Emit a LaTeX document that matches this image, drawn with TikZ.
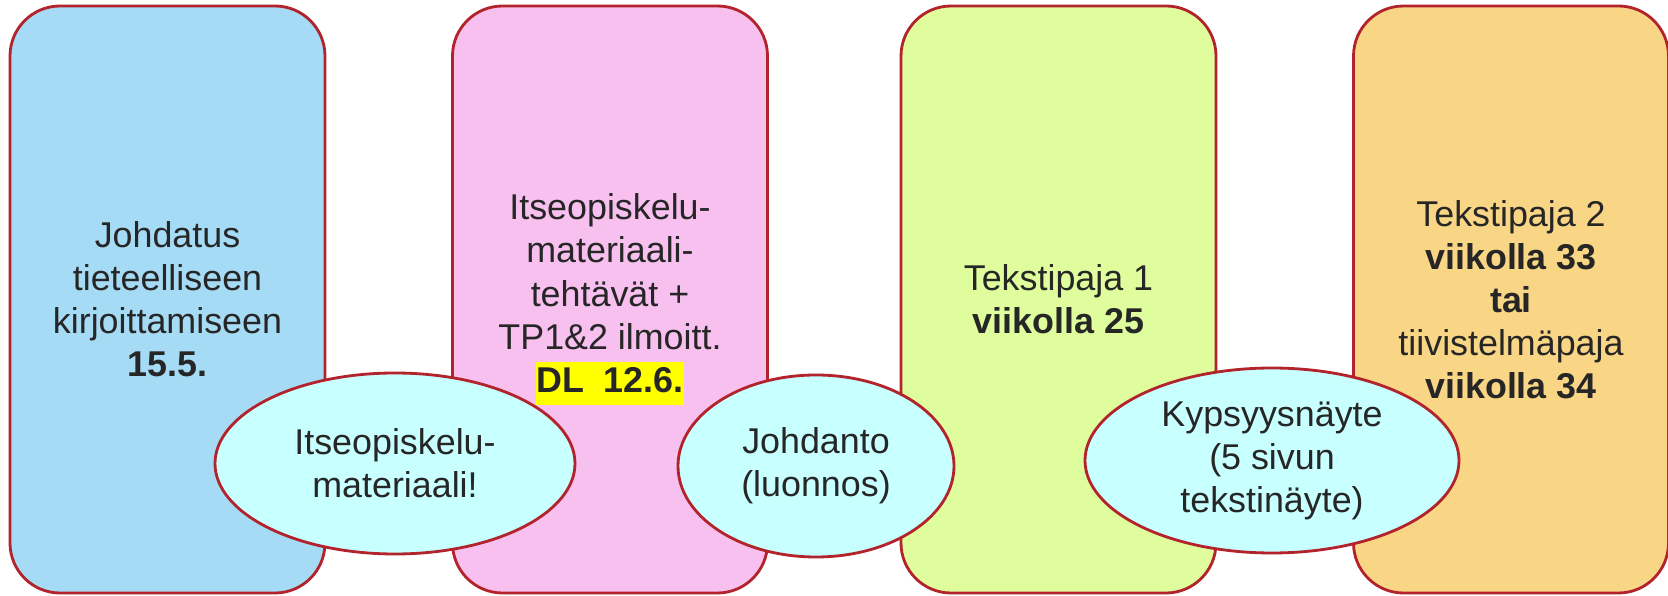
\documentclass[tikz,border=0pt]{standalone}
\usepackage{fontspec}
\setmainfont{Liberation Sans}
\usetikzlibrary{shapes.geometric}

\definecolor{edge}{HTML}{B2232B}
\definecolor{ink}{HTML}{262626}
\definecolor{skyfill}{HTML}{A6DBF5}
\definecolor{pinkfill}{HTML}{F7C0EF}
\definecolor{limefill}{HTML}{DFFD9D}
\definecolor{goldfill}{HTML}{F9D685}
\definecolor{bubblefill}{HTML}{C8FFFF}
\definecolor{marker}{HTML}{FFFF00}

\begin{document}
\begin{tikzpicture}[font=\fontsize{20.4}{24.5}\selectfont, text=ink,
	block/.style = { rectangle, rounded corners=1cm, draw=edge, line width=1.6pt,
	minimum width=6.3cm, minimum height=11.74cm, align=center },
	bubble/.style = { ellipse, draw=edge, line width=1.6pt, fill=bubblefill,
	inner sep=0pt, align=center } ]

  \useasboundingbox (0,0) rectangle (33.36,11.92);

  \node [name=intro, block, fill=skyfill] at (3.35,5.93)
	{ Johdatus\\ tieteelliseen\\ kirjoittamiseen\\ \textbf{15.5.} };
  \node [name=selfstudy, block, fill=pinkfill] at (12.2,5.93)
	{ Itseopiskelu-\\ materiaali-\\ tehtävät +\\ TP1\&2 ilmoitt.\\
	{\setlength{\fboxsep}{0pt}\colorbox{marker}{\strut\textbf{DL\ \ 12.6.}}} };
  \node [name=workshop1, block, fill=limefill] at (21.17,5.93)
	{ Tekstipaja 1\\ \textbf{viikolla 25} };
  \node [name=workshop2, block, fill=goldfill] at (30.22,5.93)
	{ Tekstipaja 2\\ \textbf{viikolla 33}\\ \textbf{tai}\\ tiivistelmäpaja\\
	\textbf{viikolla 34} };

  \node [name=material, bubble, minimum width=7.2cm, minimum height=3.62cm]
	at (7.9,2.65) { Itseopiskelu-\\ materiaali! };
  \node [name=draft, bubble, minimum width=5.52cm, minimum height=3.64cm]
	at (16.32,2.6) { Johdanto\\ (luonnos) };
  \node [name=maturity, bubble, minimum width=7.48cm, minimum height=3.7cm]
	at (25.44,2.71) { Kypsyysnäyte\\ (5 sivun\\ tekstinäyte) };
\end{tikzpicture}
\end{document}
